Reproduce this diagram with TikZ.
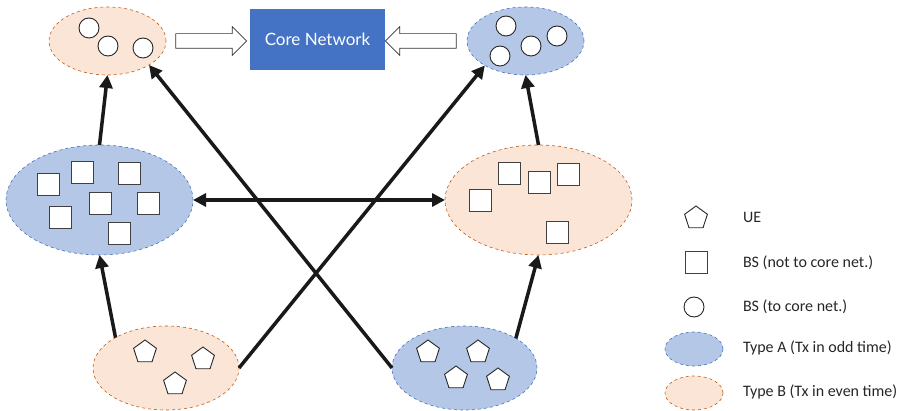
\documentclass[tikz,border=0pt]{standalone}
\usepackage{fontspec}
\setmainfont{Carlito}
\newfontfamily\corefont{Lato}
\usetikzlibrary{shapes.geometric,shapes.arrows,arrows.meta}
\definecolor{typeAfill}{HTML}{B4C7E7}
\definecolor{typeAline}{HTML}{4472C4}
\definecolor{typeBfill}{HTML}{FBE5D6}
\definecolor{typeBline}{HTML}{C55A11}
\definecolor{corebox}{HTML}{4472C4}

\begin{document}
\begin{tikzpicture}[
    x=1pt, y=-1pt,
    every node/.style={inner sep=0pt, outer sep=0pt},
    groupA/.style={ellipse, draw=typeAline, fill=typeAfill, dashed, line width=0.6pt},
    groupB/.style={ellipse, draw=typeBline, fill=typeBfill, dashed, line width=0.6pt},
    ue/.style={regular polygon, regular polygon sides=5, minimum size=24pt, draw=black!85, fill=white, line width=0.9pt},
    bsq/.style={rectangle, minimum size=22pt, draw=black!75, fill=white, line width=1pt},
    bsc/.style={circle, minimum size=20pt, draw=black!85, fill=white, line width=0.9pt},
    link/.style={line width=3.5pt, black!90, -{Triangle[length=13pt,width=13pt]}},
    hollow/.style={single arrow, draw=black!80, fill=white, line width=0.7pt, inner xsep=0pt, inner ysep=7pt, minimum height=71pt, single arrow head extend=7pt, single arrow tip angle=90},
    legtext/.style={anchor=west, font=\fontsize{16}{19}\selectfont, text=black!85}
]
\useasboundingbox (0,0) rectangle (907,411);

\node[groupB, minimum width=117pt, minimum height=68pt] (tl) at (107.5,41) {};
\node[bsc] (tl1) at (89,28) {};
\node[bsc] (tl2) at (108,46) {};
\node[bsc] (tl3) at (143,48) {};

\node[groupA, minimum width=117pt, minimum height=68pt] (tr) at (525.5,41) {};
\node[bsc] (tr1) at (506,26) {};
\node[bsc] (tr2) at (500,56) {};
\node[bsc] (tr3) at (531,46) {};
\node[bsc] (tr4) at (557,36) {};

\node[fill=corebox, minimum width=135pt, minimum height=61pt, text=white, font=\corefont\fontsize{17}{20}\selectfont] (core) at (317.5,39.5) {Core Network};
\node[hollow] (inL) at (207.5,41) {};
\node[hollow, shape border rotate=180] (inR) at (424.5,41) {};

\node[groupA, minimum width=187pt, minimum height=110pt] (ml) at (99.5,200) {};
\node[bsq] (ml1) at (48,185) {};
\node[bsq] (ml2) at (82,173) {};
\node[bsq] (ml3) at (129,174) {};
\node[bsq] (ml4) at (100,204) {};
\node[bsq] (ml5) at (148,204) {};
\node[bsq] (ml6) at (60,218) {};
\node[bsq] (ml7) at (119,234) {};

\node[groupB, minimum width=187pt, minimum height=110pt] (mr) at (538.5,200) {};
\node[bsq] (mr1) at (480,201) {};
\node[bsq] (mr2) at (509,174) {};
\node[bsq] (mr3) at (539,183) {};
\node[bsq] (mr4) at (568,175) {};
\node[bsq] (mr5) at (557,233) {};

\node[groupB, minimum width=146pt, minimum height=84pt] (bl) at (166,368) {};
\node[ue] (bl1) at (145,352) {};
\node[ue] (bl2) at (203,359) {};
\node[ue] (bl3) at (175,384) {};

\node[groupA, minimum width=145pt, minimum height=84pt] (br) at (464.5,368) {};
\node[ue] (br1) at (428,352) {};
\node[ue] (br2) at (478,352) {};
\node[ue] (br3) at (456,378) {};
\node[ue] (br4) at (498,380) {};

\draw[link] (bl.149) -- (ml.south);
\draw[link] (ml.north) -- (tl.south);
\draw[link] (br.30) -- (mr.south);
\draw[link] (mr.north) -- (tr.south);
\draw[link, {Triangle[length=13pt,width=13pt]}-{Triangle[length=13pt,width=13pt]}] (ml.east) -- (mr.west);
\draw[link] (bl.east) -- (tr.211);
\draw[link] (br.west) -- (tl.330);

\node[ue] (legUE) at (696,218) {};
\node[legtext] (txtUE) at (743,217) {UE};
\node[bsq] (legBSQ) at (696,263) {};
\node[legtext] (txtBSQ) at (743,263) {BS (not to core net.)};
\node[bsc] (legBSC) at (694,307) {};
\node[legtext] (txtBSC) at (743,307) {BS (to core net.)};
\node[groupA, minimum width=58pt, minimum height=34pt] (legA) at (694,349) {};
\node[legtext] (txtA) at (743,348) {Type A (Tx in odd time)};
\node[groupB, minimum width=58pt, minimum height=34pt] (legB) at (694,393) {};
\node[legtext] (txtB) at (743,392) {Type B (Tx in even time)};
\end{tikzpicture}
\end{document}
